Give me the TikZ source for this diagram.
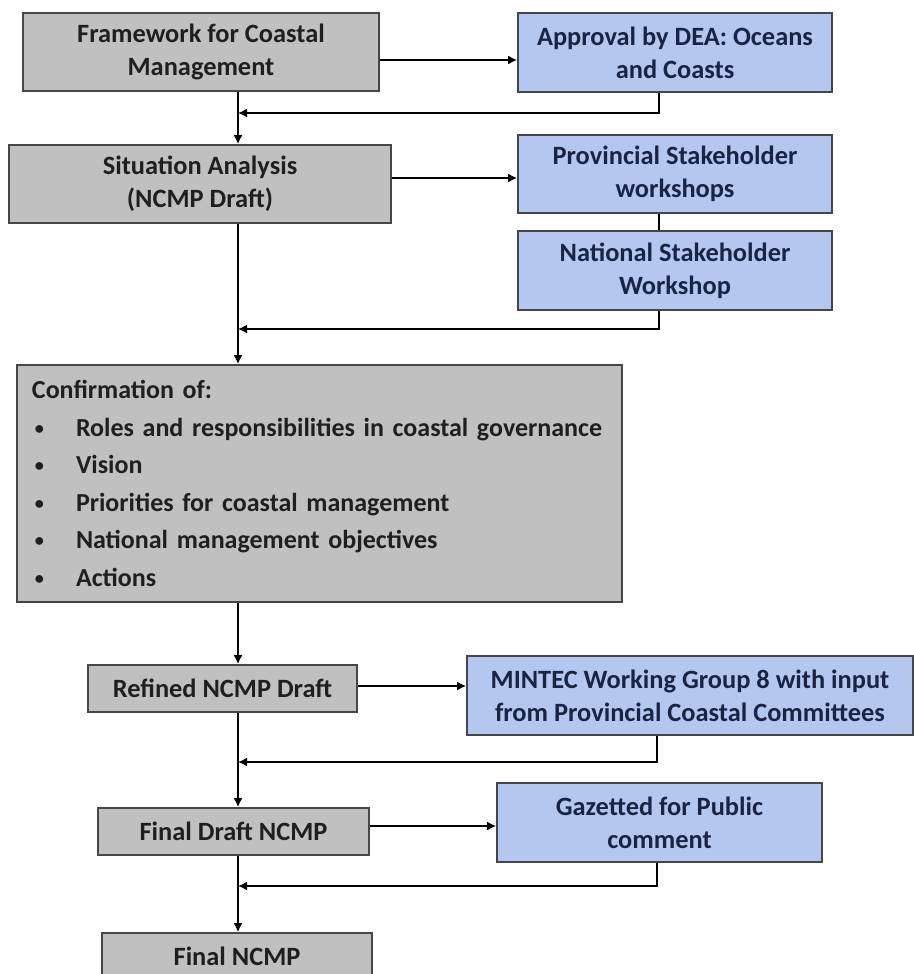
\documentclass[tikz,border=0pt]{standalone}
\usepackage{fontspec}
\setmainfont{Carlito}
\usetikzlibrary{shapes,arrows.meta}
\usetikzlibrary{positioning}

\definecolor{boxgray}{RGB}{192,192,192}
\definecolor{boxblue}{RGB}{180,199,240}
\definecolor{navytext}{RGB}{26,36,66}
\definecolor{edgegray}{RGB}{70,70,70}

\newcommand{\itembullet}{\makebox[22pt][l]{\hspace{1.5pt}\raisebox{1pt}{\scalebox{0.7}{\textbullet}}}}

\tikzset{
  stagebox/.style={draw=edgegray, line width=0.8pt, fill=boxgray, align=center,
    font=\bfseries\fontsize{13.2}{16.5}\selectfont, text=black!88, inner sep=0pt},
  inputbox/.style={stagebox, fill=boxblue, text=navytext},
  flow/.style={line width=1.4pt, -{Latex[length=4.5pt,width=4.5pt]}},
  link/.style={line width=1.4pt}
}

\begin{document}
\begin{tikzpicture}[x=0.5pt, y=-0.5pt]
    % Background
    \useasboundingbox[fill=white] (0,0) rectangle (914,974);

    % main column and return points
    \coordinate (spine) at (238,0);
    \coordinate (r1) at (238,113);
    \coordinate (r2) at (238,329);
    \coordinate (r3) at (238,762);
    \coordinate (r4) at (238,886);

    % left column
    \node[stagebox, minimum width=178pt, minimum height=39pt] (frame) at (201,52) {Framework for Coastal\\Management};
    \node[stagebox, minimum width=191pt, minimum height=39pt] (situation) at (200,184) {Situation Analysis\\(NCMP Draft)};
    \node[stagebox, minimum width=302.5pt, minimum height=118.5pt, align=left, text width=287.5pt,
      font=\bfseries\fontsize{13}{18.75}\selectfont] (confirm) at (319.5,483.5)
      {Confirmation of:\\
       \itembullet Roles and responsibilities in coastal governance\\
       \itembullet Vision\\
       \itembullet Priorities for coastal management\\
       \itembullet National management objectives\\
       \itembullet Actions};
    \node[stagebox, minimum width=134.5pt, minimum height=23.5pt] (refined) at (222.5,688.5) {Refined NCMP Draft};
    \node[stagebox, minimum width=135.5pt, minimum height=23.5pt] (finaldraft) at (233.5,831.5) {Final Draft NCMP};
    \node[stagebox, minimum width=135pt, minimum height=23.5pt] (final) at (237,956.5) {Final NCMP};

    % right column
    \node[inputbox, minimum width=157pt, minimum height=39.5pt] (approval) at (675,52.5) {Approval by DEA: Oceans\\and Coasts};
    \node[inputbox, minimum width=157pt, minimum height=39pt] (prov) at (675,174) {Provincial Stakeholder\\workshops};
    \node[inputbox, minimum width=157pt, minimum height=39.5pt] (national) at (675,270.5) {National Stakeholder\\Workshop};
    \node[inputbox, minimum width=223pt, minimum height=39.5pt] (mintec) at (690,695.5) {MINTEC Working Group 8 with input\\from Provincial Coastal Committees};
    \node[inputbox, minimum width=162.5pt, minimum height=39.5pt] (gazetted) at (659.5,822.5) {Gazetted for Public\\comment};

    % down the spine
    \draw[flow] (spine |- frame.south) -- (spine |- situation.north);
    \draw[flow] (spine |- situation.south) -- (spine |- confirm.north);
    \draw[flow] (spine |- confirm.south) -- (spine |- refined.north);
    \draw[flow] (spine |- refined.south) -- (spine |- finaldraft.north);
    \draw[flow] (spine |- finaldraft.south) -- (spine |- final.north);

    % out to the side
    \draw[flow] ([yshift=-4pt]frame.east) -- ([yshift=-4pt]frame.east -| approval.west);
    \draw[flow] ([yshift=3pt]situation.east) -- ([yshift=3pt]situation.east -| prov.west);
    \draw[flow] ([yshift=1.25pt]refined.east) -- ([yshift=1.25pt]refined.east -| mintec.west);
    \draw[flow] ([yshift=2.75pt]finaldraft.east) -- ([yshift=2.75pt]finaldraft.east -| gazetted.west);
    \draw[link] ([xshift=-8pt]prov.south) -- ([xshift=-8pt]national.north);

    % back to the spine
    \draw[flow] ([xshift=-8pt]approval.south) |- (r1);
    \draw[flow] ([xshift=-8pt]national.south) |- (r2);
    \draw[flow] ([xshift=-16.5pt]mintec.south) |- (r3);
    \draw[flow] ([xshift=-1.25pt]gazetted.south) |- (r4);

  \end{tikzpicture}
\end{document}
